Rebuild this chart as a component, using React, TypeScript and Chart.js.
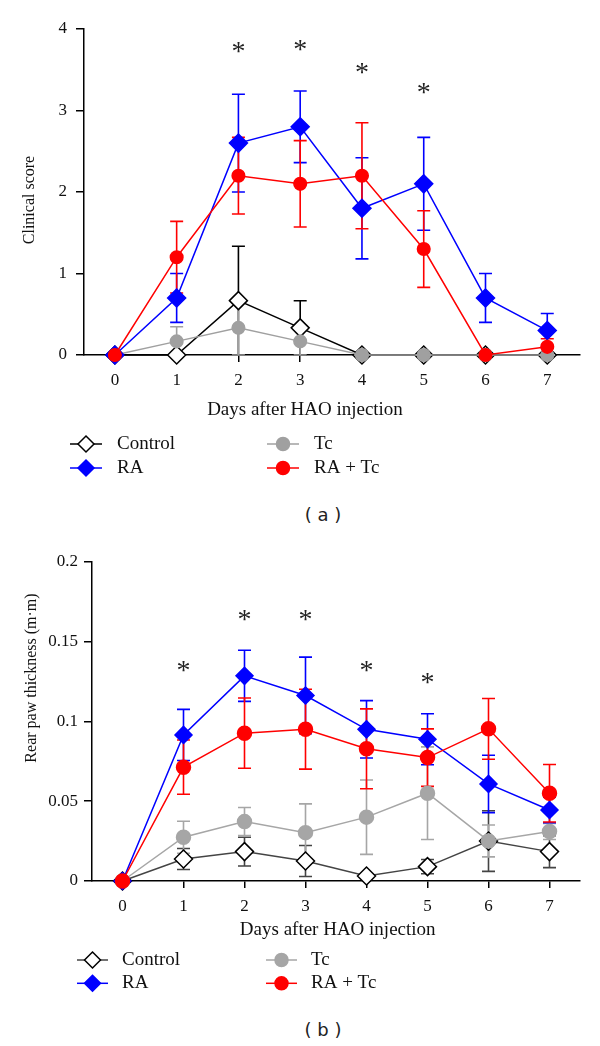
import React, { useEffect, useRef } from "react";
import { Chart, registerables } from "chart.js";

Chart.register(...registerables);

// ---------------- DATA ----------------
const days = [0, 1, 2, 3, 4, 5, 6, 7];
const xTickLabels = ["0", "1", "2", "3", "4", "5", "6", "7"];

// (a) Clinical score
const yTicksA = [0, 1, 2, 3, 4];
const yTickLabelsA = ["0", "1", "2", "3", "4"];
const controlScore = [0, 0, 0.667, 0.333, 0, 0, 0, 0];
const controlScoreErr = [0, 0, 0.667, 0.333, 0, 0, 0, 0];
const tcScore = [0, 0.167, 0.333, 0.167, 0, 0, 0, 0];
const tcScoreErr = [0, 0.18, 0.333, 0.167, 0, 0, 0, 0];
const raScore = [0, 0.7, 2.6, 2.8, 1.8, 2.1, 0.7, 0.3];
const raScoreErr = [0, 0.3, 0.6, 0.44, 0.62, 0.57, 0.3, 0.21];
const raTcScore = [0, 1.2, 2.2, 2.1, 2.2, 1.3, 0, 0.1];
const raTcScoreErr = [0, 0.44, 0.47, 0.53, 0.65, 0.47, 0, 0.1];
const starDaysA = [2, 3, 4, 5];
const starYA = [3.77, 3.8, 3.52, 3.27];

// (b) Rear paw thickness
const yTicksB = [0, 0.05, 0.1, 0.15, 0.2];
const yTickLabelsB = ["0", "0.05", "0.1", "0.15", "0.2"];
const controlPaw = [0, 0.0138, 0.0184, 0.0125, 0.0031, 0.009, 0.025, 0.0184];
const controlPawErr = [0, 0.0066, 0.009, 0.0097, 0.001, 0.0045, 0.019, 0.01];
const tcPaw = [0, 0.0274, 0.0372, 0.0303, 0.04, 0.055, 0.0251, 0.031];
const tcPawErr = [0, 0.01, 0.0088, 0.018, 0.0233, 0.029, 0.01, 0.005];
const raPaw = [0, 0.0915, 0.1285, 0.1162, 0.095, 0.0888, 0.0608, 0.0445];
const raPawErr = [0, 0.016, 0.016, 0.024, 0.018, 0.016, 0.018, 0.008];
const raTcPaw = [0, 0.0713, 0.0926, 0.0951, 0.0828, 0.0773, 0.0953, 0.055];
const raTcPawErr = [0, 0.017, 0.022, 0.025, 0.025, 0.018, 0.019, 0.018];
const starDaysB = [1, 2, 3, 4, 5];
const starYB = [0.1344, 0.166, 0.166, 0.1344, 0.127];

// ---------------- STYLE ----------------
const SERIF = '"Liberation Serif", "Times New Roman", serif';
const BLUE = "#0000ff";
const RED = "#ff0000";

type Series = {
  name: string;
  values: number[];
  errs: number[];
  line: string;
  marker: "diamond" | "circle";
  fill: string;
  stroke: string;
  radius: number;
  order: number;
};

type Spec = {
  height: number;
  top: number;
  yAxisWidth: number;
  xAxisHeight: number;
  xMax: number;
  yMax: number;
  yTicks: number[];
  yTickLabels: string[];
  yPad: number;
  series: Series[];
  starDays: number[];
  starY: number[];
  yTitle: { text: string; x: number; y: number; size: number };
  xTitle: { text: string; x: number; y: number };
  legend: { cols: number[]; rows: number[]; lineLen: number; gap: number };
};

function drawMarker(
  ctx: CanvasRenderingContext2D,
  s: Series,
  x: number,
  y: number,
  r: number
) {
  ctx.beginPath();
  if (s.marker === "diamond") {
    ctx.moveTo(x, y - r);
    ctx.lineTo(x + r, y);
    ctx.lineTo(x, y + r);
    ctx.lineTo(x - r, y);
    ctx.closePath();
  } else {
    ctx.arc(x, y, r, 0, Math.PI * 2);
  }
  ctx.fillStyle = s.fill;
  ctx.fill();
  ctx.lineWidth = 1.5;
  ctx.strokeStyle = s.stroke;
  ctx.stroke();
}

function makeDecor(spec: Spec) {
  return {
    id: "decor",
    beforeDatasetsDraw(chart: any) {
      const ctx: CanvasRenderingContext2D = chart.ctx;
      const xs = chart.scales.x;
      const ys = chart.scales.y;
      const order = [...spec.series].sort((a, b) => b.order - a.order);
      order.forEach((s) => {
        ctx.save();
        ctx.strokeStyle = s.line;
        ctx.lineWidth = 1.6;
        s.values.forEach((v, i) => {
          const e = s.errs[i];
          if (!e) return;
          const x = xs.getPixelForValue(days[i]);
          const yt = ys.getPixelForValue(v + e);
          const yb = ys.getPixelForValue(Math.max(0, v - e));
          ctx.beginPath();
          ctx.moveTo(x, yt);
          ctx.lineTo(x, yb);
          ctx.moveTo(x - 6.5, yt);
          ctx.lineTo(x + 6.5, yt);
          ctx.moveTo(x - 6.5, yb);
          ctx.lineTo(x + 6.5, yb);
          ctx.stroke();
        });
        ctx.restore();
      });
    },
    afterDraw(chart: any) {
      const ctx: CanvasRenderingContext2D = chart.ctx;
      const xs = chart.scales.x;
      const ys = chart.scales.y;
      ctx.save();
      // significance stars
      ctx.fillStyle = "#222";
      ctx.font = `28px ${SERIF}`;
      ctx.textAlign = "center";
      ctx.textBaseline = "alphabetic";
      spec.starDays.forEach((d, i) => {
        const x = xs.getPixelForValue(d);
        const y = ys.getPixelForValue(spec.starY[i]);
        const m = ctx.measureText("*");
        const off = (m.actualBoundingBoxAscent - m.actualBoundingBoxDescent) / 2;
        ctx.fillText("*", x, y + off);
      });
      // axis titles
      ctx.fillStyle = "#111";
      ctx.font = `19px ${SERIF}`;
      ctx.textBaseline = "middle";
      ctx.fillText(spec.xTitle.text, spec.xTitle.x, spec.xTitle.y + 1);
      ctx.save();
      ctx.translate(spec.yTitle.x, spec.yTitle.y);
      ctx.rotate(-Math.PI / 2);
      ctx.font = `${spec.yTitle.size}px ${SERIF}`;
      ctx.fillText(spec.yTitle.text, 0, 0);
      ctx.restore();
      // legend: Control, Tc / RA, RA + Tc
      const L = spec.legend;
      const layout = [
        ["Control", 0, 0],
        ["Tc", 1, 0],
        ["RA", 0, 1],
        ["RA + Tc", 1, 1],
      ] as const;
      layout.forEach(([name, c, r]) => {
        const s = spec.series.find((q) => q.name === name)!;
        const x0 = L.cols[c];
        const y = L.rows[r];
        ctx.beginPath();
        ctx.strokeStyle = s.line;
        ctx.lineWidth = 1.5;
        ctx.moveTo(x0, y);
        ctx.lineTo(x0 + L.lineLen, y);
        ctx.stroke();
        drawMarker(ctx, s, x0 + L.lineLen / 2, y, s.marker === "diamond" ? 8 : 6.5);
        ctx.fillStyle = "#111";
        ctx.font = `19px ${SERIF}`;
        ctx.textAlign = "left";
        ctx.textBaseline = "middle";
        ctx.fillText(name, x0 + L.lineLen + L.gap, y);
      });
      ctx.restore();
    },
  };
}

function buildConfig(spec: Spec): any {
  return {
    type: "line",
    data: {
      datasets: spec.series.map((s) => ({
        label: s.name,
        data: s.values.map((v, i) => ({ x: days[i], y: v })),
        borderColor: s.line,
        borderWidth: 1.5,
        pointStyle: s.marker === "diamond" ? "rectRot" : "circle",
        pointRadius: s.radius,
        pointBackgroundColor: s.fill,
        pointBorderColor: s.stroke,
        pointBorderWidth: 1.5,
        tension: 0,
        clip: false,
        order: s.order,
      })),
    },
    plugins: [makeDecor(spec)],
    options: {
      responsive: false,
      animation: false,
      events: [],
      layout: { padding: { top: spec.top, right: 20, left: 0, bottom: 0 } },
      plugins: { legend: { display: false }, tooltip: { enabled: false } },
      scales: {
        x: {
          type: "linear",
          min: -0.5,
          max: spec.xMax,
          afterBuildTicks: (s: any) => {
            s.ticks = days.map((v) => ({ value: v }));
          },
          afterFit: (s: any) => {
            s.height = spec.xAxisHeight;
          },
          ticks: {
            autoSkip: false,
            maxRotation: 0,
            padding: 8,
            color: "#111",
            font: { family: SERIF, size: 17 },
            callback: (v: number) => xTickLabels[days.indexOf(v)] ?? "",
          },
          grid: {
            drawOnChartArea: false,
            drawTicks: true,
            tickLength: 7,
            color: "#000",
            lineWidth: 1.5,
          },
          border: { display: true, color: "#000", width: 1.5 },
        },
        y: {
          type: "linear",
          min: 0,
          max: spec.yMax,
          afterBuildTicks: (s: any) => {
            s.ticks = spec.yTicks.map((v) => ({ value: v }));
          },
          afterFit: (s: any) => {
            s.width = spec.yAxisWidth;
          },
          ticks: {
            autoSkip: false,
            padding: spec.yPad,
            color: "#111",
            font: { family: SERIF, size: 17 },
            callback: (v: number) => {
              const i = spec.yTicks.findIndex((t) => Math.abs(t - v) < 1e-9);
              return i >= 0 ? spec.yTickLabels[i] : "";
            },
          },
          grid: {
            drawOnChartArea: false,
            drawTicks: true,
            tickLength: 8,
            color: "#000",
            lineWidth: 1.5,
          },
          border: { display: true, color: "#000", width: 1.5 },
        },
      },
    },
  };
}

const specA: Spec = {
  height: 500,
  top: 29,
  yAxisWidth: 84,
  xAxisHeight: 145,
  xMax: 7.53,
  yMax: 4,
  yTicks: yTicksA,
  yTickLabels: yTickLabelsA,
  yPad: 9,
  series: [
    { name: "Control", values: controlScore, errs: controlScoreErr, line: "#000", marker: "diamond", fill: "#fff", stroke: "#000", radius: 9, order: 4 },
    { name: "RA", values: raScore, errs: raScoreErr, line: BLUE, marker: "diamond", fill: BLUE, stroke: BLUE, radius: 9, order: 2 },
    { name: "Tc", values: tcScore, errs: tcScoreErr, line: "#a0a0a0", marker: "circle", fill: "#a0a0a0", stroke: "#a0a0a0", radius: 6.3, order: 3 },
    { name: "RA + Tc", values: raTcScore, errs: raTcScoreErr, line: RED, marker: "circle", fill: RED, stroke: RED, radius: 6.3, order: 1 },
  ],
  starDays: starDaysA,
  starY: starYA,
  yTitle: { text: "Clinical score", x: 30, y: 200, size: 16 },
  xTitle: { text: "Days after HAO injection", x: 305, y: 409 },
  legend: { cols: [70, 267], rows: [444, 468], lineLen: 32, gap: 15 },
};

const specB: Spec = {
  height: 490,
  top: 51.7,
  yAxisWidth: 92,
  xAxisHeight: 119,
  xMax: 7.5,
  yMax: 0.2,
  yTicks: yTicksB,
  yTickLabels: yTickLabelsB,
  yPad: 6,
  series: [
    { name: "Control", values: controlPaw, errs: controlPawErr, line: "#444", marker: "diamond", fill: "#fff", stroke: "#000", radius: 9, order: 4 },
    { name: "RA", values: raPaw, errs: raPawErr, line: BLUE, marker: "diamond", fill: BLUE, stroke: BLUE, radius: 8.5, order: 2 },
    { name: "Tc", values: tcPaw, errs: tcPawErr, line: "#a6a6a6", marker: "circle", fill: "#a6a6a6", stroke: "#a6a6a6", radius: 7, order: 3 },
    { name: "RA + Tc", values: raTcPaw, errs: raTcPawErr, line: RED, marker: "circle", fill: RED, stroke: RED, radius: 7, order: 1 },
  ],
  starDays: starDaysB,
  starY: starYB,
  yTitle: { text: "Rear paw thickness (m·m)", x: 32, y: 168, size: 16 },
  xTitle: { text: "Days after HAO injection", x: 337.7, y: 419 },
  legend: { cols: [77, 266], rows: [450, 473.3], lineLen: 31, gap: 14 },
};

function ChartPanel({ spec, top }: { spec: Spec; top: number }) {
  const ref = useRef<HTMLCanvasElement>(null);
  useEffect(() => {
    const chart = new Chart(ref.current as HTMLCanvasElement, buildConfig(spec));
    return () => chart.destroy();
  }, [spec]);
  return (
    <canvas
      ref={ref}
      width={600}
      height={spec.height}
      style={{ position: "absolute", left: 0, top, width: 600, height: spec.height }}
    />
  );
}

const captionStyle: React.CSSProperties = {
  position: "absolute",
  left: 273,
  width: 100,
  height: 24,
  lineHeight: "24px",
  textAlign: "center",
  fontFamily: '"DejaVu Sans", Verdana, sans-serif',
  fontSize: 18,
  color: "#222",
  whiteSpace: "pre",
};

export default function App() {
  useEffect(() => {
    document.body.style.margin = "0";
    document.body.style.background = "#fff";
  }, []);
  return (
    <div style={{ position: "relative", width: 600, height: 1046, background: "#fff", overflow: "hidden" }}>
      <ChartPanel spec={specA} top={0} />
      <div style={{ ...captionStyle, top: 503 }}>( a )</div>
      <ChartPanel spec={specB} top={510} />
      <div style={{ ...captionStyle, top: 1018 }}>( b )</div>
    </div>
  );
}
